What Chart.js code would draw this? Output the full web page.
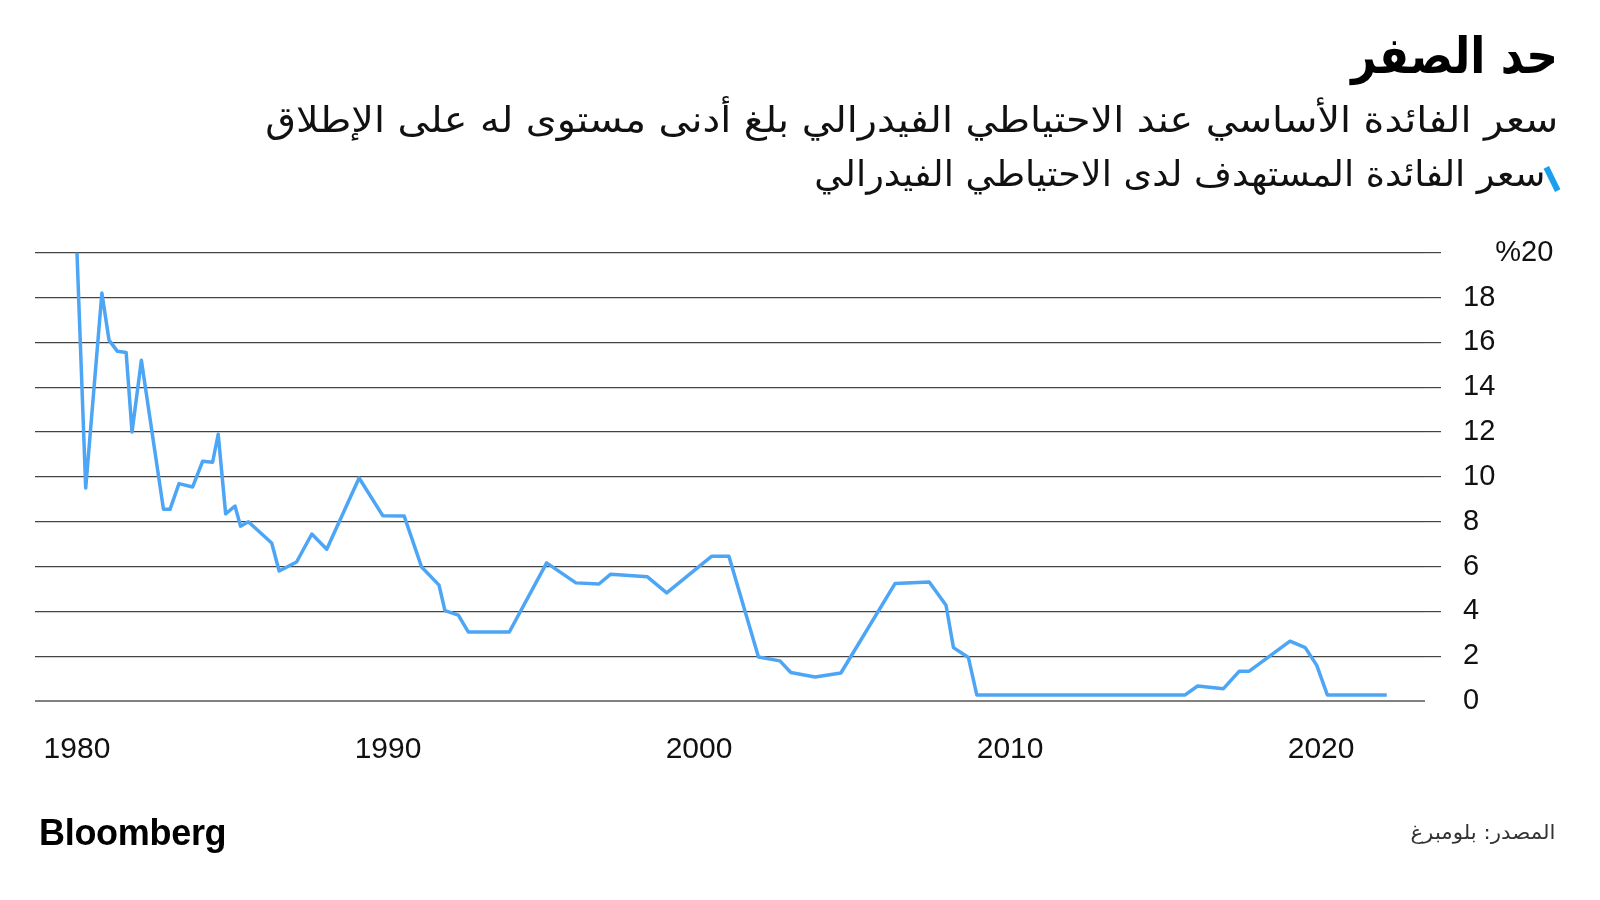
<!DOCTYPE html>
<html lang="ar">
<head>
<meta charset="utf-8">
<script src="https://cdn.jsdelivr.net/npm/chart.js@4.4.0/dist/chart.umd.min.js"></script>
<style>
  html, body { margin: 0; padding: 0; background: #fff; }
  #wrap { position: relative; width: 1600px; height: 900px; overflow: hidden; }
  #fedChart { position: absolute; left: 0; top: 0; }
  .ar {
    position: absolute; direction: rtl; white-space: nowrap; line-height: 1;
    font-family: "DejaVu Sans Condensed", "DejaVu Sans", sans-serif;
    transform-origin: right center;
  }
  #title { right: 42px; top: 31px; font-size: 50px; font-weight: bold; color: #000; }
  #subtitle { right: 42px; top: 102px; font-size: 36px; color: #111; }
  #legendText { right: 55px; top: 157px; font-size: 35px; color: #111; }
  #legendMark {
    position: absolute; left: 1549px; top: 166px; width: 6px; height: 26px;
    background: #1a9fee; transform: rotate(-26deg);
  }
  #source { right: 45px; top: 822px; font-size: 20px; color: #333; }
  #logo {
    position: absolute; left: 39px; top: 815px; font-family: "Liberation Sans", Arial, sans-serif;
    font-size: 36px; font-weight: bold; letter-spacing: -0.3px; line-height: 1; color: #000;
  }
</style>
</head>
<body>
<div id="wrap">
  <canvas id="fedChart" width="1600" height="900"></canvas>
  <div id="title" class="ar" data-w="207">حد الصفر</div>
  <div id="subtitle" class="ar" data-w="1293">سعر الفائدة الأساسي عند الاحتياطي الفيدرالي بلغ أدنى مستوى له على الإطلاق</div>
  <div id="legendText" class="ar" data-w="731">سعر الفائدة المستهدف لدى الاحتياطي الفيدرالي</div>
  <div id="legendMark"></div>
  <div id="source" class="ar" data-w="145">المصدر: بلومبرغ</div>
  <div id="logo">Bloomberg</div>
</div>
<script>
// Fed funds target rate (decimal years)
const years = [
  1980.0, 1980.28, 1980.8, 1981.03, 1981.3, 1981.58, 1981.77, 1982.07, 1982.78, 1982.99,
  1983.28, 1983.72, 1984.04, 1984.36, 1984.54, 1984.78, 1985.08, 1985.26, 1985.51, 1986.26,
  1986.5, 1987.06, 1987.55, 1988.03, 1989.07, 1989.83, 1990.52, 1991.08, 1991.64, 1991.83,
  1992.26, 1992.58, 1993.9, 1995.1, 1996.04, 1996.78, 1997.16, 1998.34, 1998.96, 2000.41,
  2000.96, 2001.91, 2002.6, 2002.95, 2003.73, 2004.56, 2006.3, 2007.4, 2007.94, 2008.18,
  2008.66, 2008.93, 2015.63, 2016.03, 2016.86, 2017.37, 2017.69, 2019.0, 2019.49, 2019.86,
  2020.2, 2022.11
];
const rates = [
  20.0, 9.5, 18.2, 16.1, 15.6, 15.55, 12.0, 15.2, 8.55, 8.55,
  9.7, 9.55, 10.7, 10.65, 11.9, 8.35, 8.7, 7.8, 8.0, 7.05,
  5.8, 6.2, 7.45, 6.77, 9.95, 8.27, 8.25, 5.98, 5.17, 4.03,
  3.83, 3.08, 3.08, 6.16, 5.27, 5.22, 5.66, 5.54, 4.82, 6.46,
  6.46, 1.96, 1.79, 1.27, 1.07, 1.25, 5.24, 5.31, 4.27, 2.38,
  1.94, 0.27, 0.27, 0.67, 0.55, 1.33, 1.33, 2.67, 2.38, 1.59,
  0.27, 0.27
];
const xTicks = [1980, 1990, 2000, 2010, 2020];
const yTicks = [0, 2, 4, 6, 8, 10, 12, 14, 16, 18, 20];

document.addEventListener("DOMContentLoaded", function() {
    // squeeze the Arabic headings to the widths of the original font
    document.querySelectorAll('[data-w]').forEach(function(el) {
        const w = el.getBoundingClientRect().width;
        el.style.transform = 'scaleX(' + (el.dataset.w / w) + ')';
    });

    const ctx = document.getElementById('fedChart').getContext('2d');
    const gridColor = '#444';

    new Chart(ctx, {
        type: 'line',
        data: {
            datasets: [{
                label: 'سعر الفائدة المستهدف لدى الاحتياطي الفيدرالي',
                data: years.map((yr, i) => ({ x: yr, y: rates[i] })),
                borderColor: '#4da5f5',
                borderWidth: 3.5,
                borderJoinStyle: 'round',
                pointRadius: 0,
                tension: 0,
                clip: false
            }]
        },
        options: {
            responsive: false,
            animation: false,
            layout: {
                padding: { left: 35, top: 252.7, right: 0, bottom: 119 }
            },
            plugins: {
                legend: { display: false },
                tooltip: { enabled: false }
            },
            scales: {
                x: {
                    type: 'linear',
                    min: 1978.65,
                    max: 2023.34,
                    afterBuildTicks: axis => { axis.ticks = xTicks.map(v => ({ value: v })); },
                    afterFit: axis => { axis.height = 80; },
                    grid: { display: false, drawTicks: false },
                    border: { display: false },
                    ticks: {
                        padding: 31,
                        maxRotation: 0,
                        autoSkip: false,
                        color: '#111',
                        font: { family: 'Liberation Sans', size: 30 },
                        callback: v => String(v)
                    }
                },
                y: {
                    position: 'right',
                    min: 0,
                    max: 20,
                    afterBuildTicks: axis => { axis.ticks = yTicks.map(v => ({ value: v })); },
                    afterFit: axis => { axis.width = 175; },
                    grid: {
                        color: c => c.tick.value === 0 ? '#808080' : gridColor,
                        lineWidth: c => c.tick.value === 0 ? 2 : 1.2,
                        tickLength: 16,
                        tickColor: c => c.tick.value === 0 ? 'rgba(0,0,0,0)' : gridColor
                    },
                    border: { display: false },
                    ticks: {
                        padding: 22,
                        color: '#111',
                        font: { family: 'Liberation Sans', size: 29 },
                        callback: v => v === 20 ? '    %20' : String(v)
                    }
                }
            }
        }
    });
});
</script>
</body>
</html>
